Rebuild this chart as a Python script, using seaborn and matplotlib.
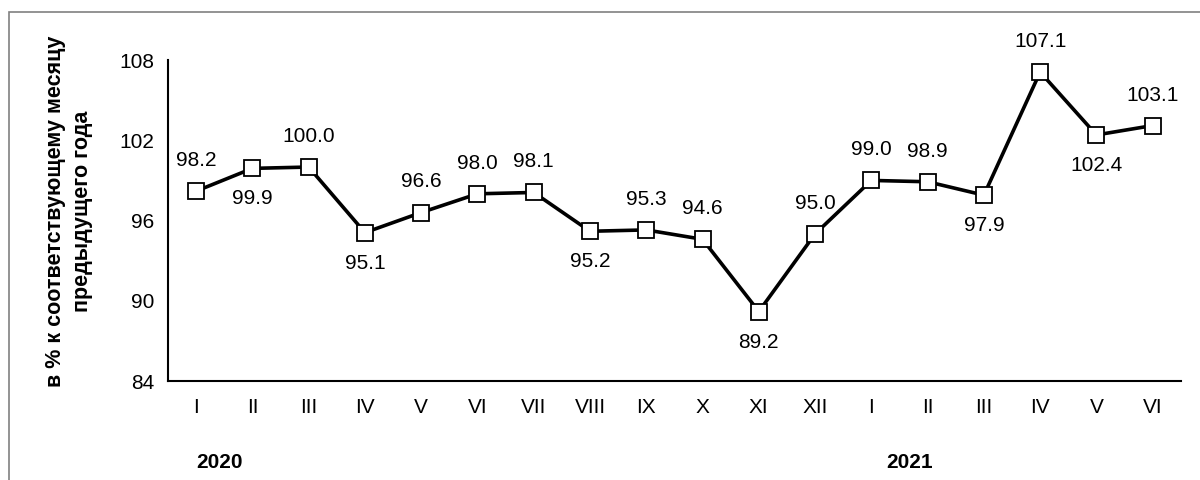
import matplotlib
matplotlib.use("Agg")
import matplotlib.pyplot as plt
import matplotlib.patches as patches
import seaborn as sns
import pandas as pd

months = ["I", "II", "III", "IV", "V", "VI", "VII", "VIII", "IX", "X", "XI", "XII",
          "I", "II", "III", "IV", "V", "VI"]
values = [98.2, 99.9, 100.0, 95.1, 96.6, 98.0, 98.1, 95.2, 95.3, 94.6, 89.2, 95.0,
          99.0, 98.9, 97.9, 107.1, 102.4, 103.1]
# метка сверху (1) или снизу (-1)
label_side = [1, -1, 1, -1, 1, 1, 1, -1, 1, 1, -1, 1, 1, 1, -1, 1, -1, 1]
years = ["2020", "2021"]
y_ticks = [84, 90, 96, 102, 108]

sns.set_style("white")
plt.rcParams["font.family"] = ["Liberation Sans", "DejaVu Sans"]
plt.rcParams["text.color"] = "black"
plt.rcParams["xtick.color"] = "black"
plt.rcParams["ytick.color"] = "black"
plt.rcParams["axes.labelcolor"] = "black"

FS = 15

df = pd.DataFrame({"pos": range(len(values)), "value": values})

fig = plt.figure(figsize=(12, 4.8), dpi=100)
ax = fig.add_axes([0.14, 0.206, 0.844, 0.669])

sns.lineplot(data=df, x="pos", y="value", ax=ax, color="black", linewidth=2.6,
             marker="s", markersize=12, markerfacecolor="white",
             markeredgecolor="black", markeredgewidth=1.3)

for i, (v, s) in enumerate(zip(values, label_side)):
    ax.annotate(f"{v:.1f}", (i, v), xytext=(0, 22 * s), textcoords="offset points",
                ha="center", va="center", fontsize=FS)

ax.set_xlim(-0.5, len(values) - 0.5)
ax.set_ylim(84, 108)
ax.set_yticks(y_ticks)
ax.set_yticklabels([str(t) for t in y_ticks], fontsize=FS)
ax.set_xticks(range(len(values)))
ax.set_xticklabels(months, fontsize=FS)
ax.set_xticks([i - 0.5 for i in range(len(values) + 1)], minor=True)
ax.tick_params(axis="x", which="major", length=0, pad=12)
ax.tick_params(axis="x", which="minor", length=5, width=1.5, direction="out", color="black")
ax.tick_params(axis="y", length=6, width=1.5, direction="out", color="black", pad=4)
ax.set_xlabel("")
ax.set_ylabel("в % к соответствующему месяцу\nпредыдущего года", fontsize=15.5,
              fontweight="bold", linespacing=1.35)
ax.yaxis.set_label_coords(-0.074, 0.53)

for side in ["top", "right"]:
    ax.spines[side].set_visible(False)
for side in ["left", "bottom"]:
    ax.spines[side].set_color("black")
    ax.spines[side].set_linewidth(1.5)

fig.text(220 / 1200, 1 - 463 / 480, years[0], fontsize=FS, fontweight="bold",
         ha="center", va="center")
fig.text(910 / 1200, 1 - 463 / 480, years[1], fontsize=FS, fontweight="bold",
         ha="center", va="center")

# рамка вокруг диаграммы
fig.patches.append(patches.Rectangle((9 / 1200, -0.1), 1.2, (480 - 12) / 480 + 0.1,
                                     transform=fig.transFigure, fill=False,
                                     edgecolor="#808080", linewidth=1.2))

fig.savefig("out.png", dpi=100)
